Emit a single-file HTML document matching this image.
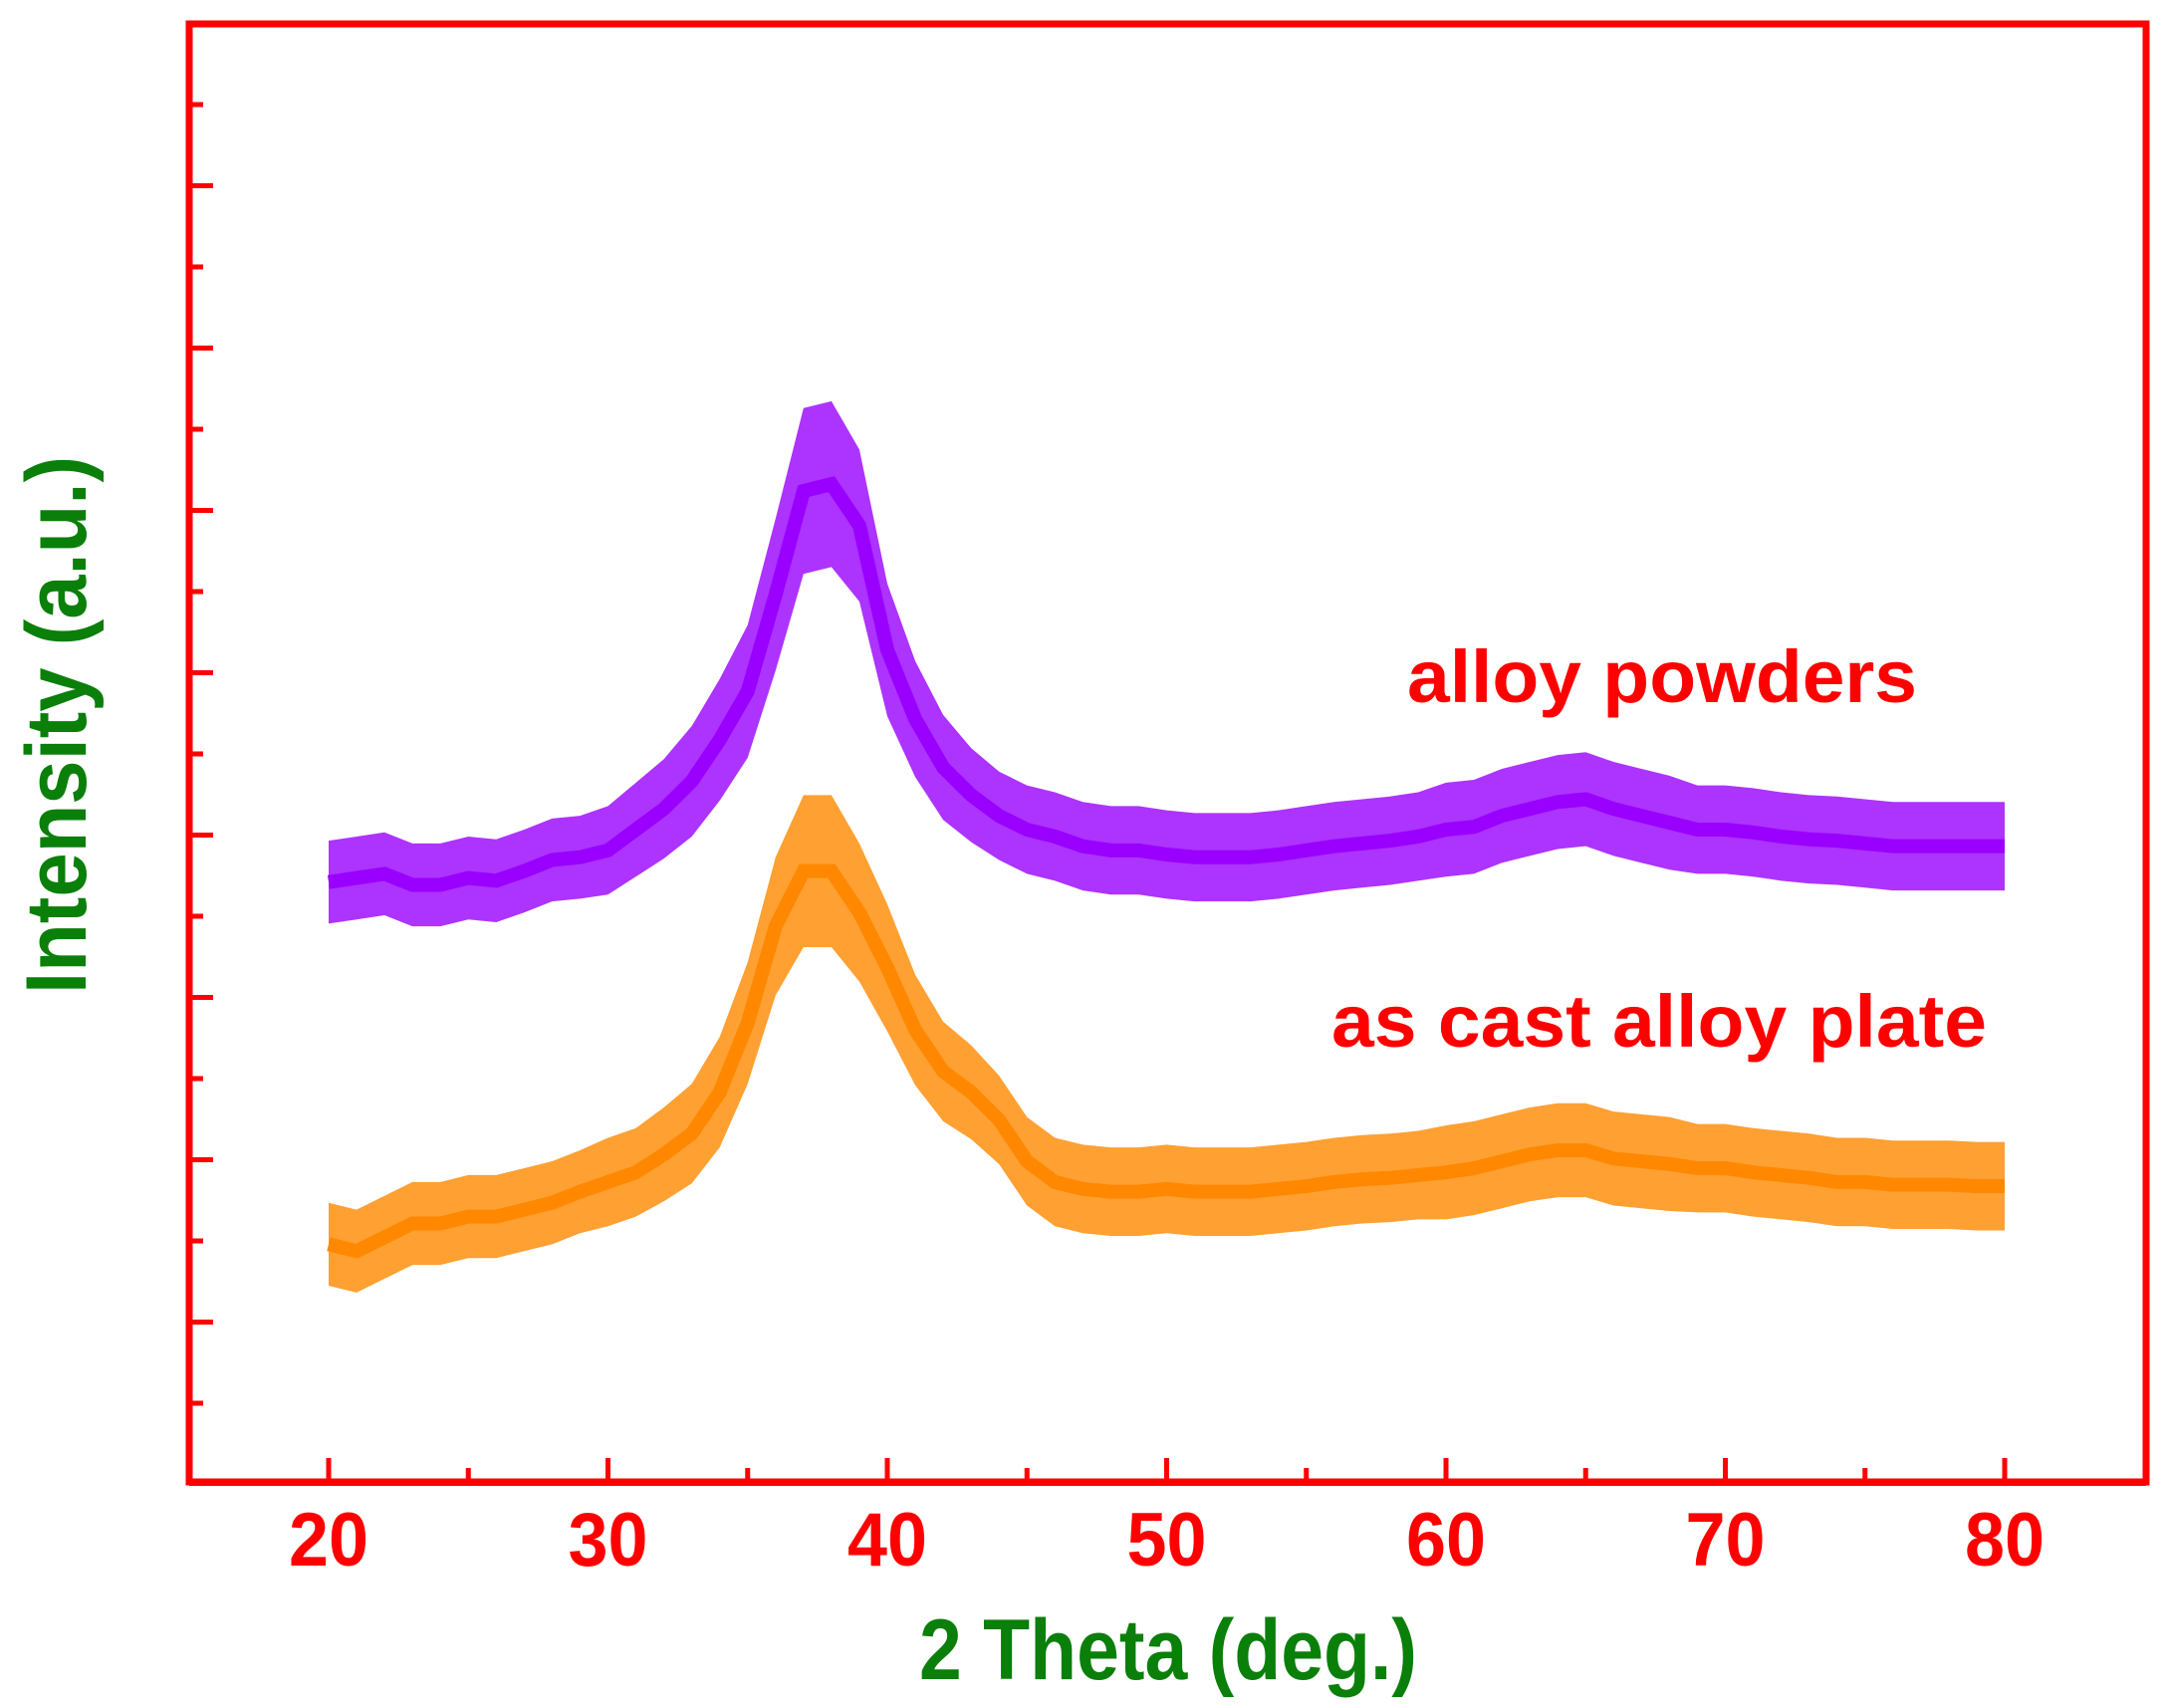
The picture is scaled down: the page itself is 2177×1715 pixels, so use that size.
<!DOCTYPE html>
<html><head><meta charset="utf-8"><style>
html,body{margin:0;padding:0;background:#fff}
svg{display:block}
text{font-family:"Liberation Sans",sans-serif;font-weight:bold}
</style></head><body>
<svg id="chart" width="2177" height="1715" viewBox="0 0 2177 1715" xmlns="http://www.w3.org/2000/svg">
<g id="series"></g>
<g id="axes"></g>
<text x="1413" y="705" font-size="74" fill="#ff0000" textLength="512" lengthAdjust="spacingAndGlyphs">alloy powders</text>
<text x="1337" y="1051" font-size="74" fill="#ff0000" textLength="658" lengthAdjust="spacingAndGlyphs">as cast alloy plate</text>
<text x="1173" y="1686" font-size="86" fill="#0a7f0a" text-anchor="middle" textLength="500" lengthAdjust="spacingAndGlyphs">2 Theta (deg.)</text>
<text transform="translate(86,728) rotate(-90)" font-size="86" fill="#0a7f0a" text-anchor="middle" textLength="540" lengthAdjust="spacingAndGlyphs">Intensity (a.u.)</text>
</svg>
<script>
const thetaStart = 20;
const powderMean = [434,437,440,432,432,437,435,442,450,452,457,472,487,507,537,572,642,717,722,692,602,552,517,497,482,472,467,460,457,457,454,452,452,452,454,457,460,462,464,467,472,474,482,487,492,494,487,482,477,472,472,470,467,465,464,462,460,460,460,460,460];
const plateMean = [172,167,177,187,187,192,192,197,202,210,217,224,237,252,282,332,402,442,442,412,372,327,297,282,262,232,217,212,210,210,212,210,210,210,212,214,217,219,220,222,224,227,232,237,240,240,234,232,230,227,227,224,222,220,217,217,215,215,215,214,214];
const powderSpread = [30,30,30,30,30,30,30,30,30,30,32,34,36,40,44,48,55,60,60,55,48,42,38,34,32,32,32,32,32,32,32,32,32,32,32,32,32,32,32,32,34,34,34,34,34,34,34,34,34,32,32,32,32,32,32,32,32,32,32,32,32];
const plateSpread = [30,30,30,30,30,30,30,30,30,30,32,32,34,36,40,44,50,55,55,50,46,40,36,34,32,32,32,32,32,32,32,32,32,32,32,32,32,32,32,32,34,34,34,34,34,34,34,34,34,32,32,32,32,32,32,32,32,32,32,32,32];
const xTickLabels = ["20","30","40","50","60","70","80"];

const NS="http://www.w3.org/2000/svg";
const L=190,T=24,R=2155,B=1488;
function xs(t){return 330+(t-20)*(2013-330)/60;}
function ys(v){return B-v*(B-T)/1055;}
function mk(tag,attrs,parent){const e=document.createElementNS(NS,tag);for(const k in attrs)e.setAttribute(k,attrs[k]);parent.appendChild(e);return e;}
const sg=document.getElementById('series'), ag=document.getElementById('axes');

function drawSeries(mean,spread,color,name){
  let up=[],lo=[],mid=[];
  mean.forEach((v,i)=>{const x=xs(thetaStart+i);up.push(x+','+ys(v+spread[i]));lo.unshift(x+','+ys(v-spread[i]));mid.push(x+','+ys(v));});
  const band=mk('polygon',{points:up.concat(lo).join(' '),fill:color,'fill-opacity':'0.8'},sg);
  
  
  const line=mk('polyline',{points:mid.join(' '),fill:'none',stroke:color,'stroke-width':'14'},sg);
  
  
}
drawSeries(powderMean,powderSpread,'#9900ff','alloy-powders');
drawSeries(plateMean,plateSpread,'#ff8800','as-cast-plate');

const frame=mk('rect',{x:L,y:T,width:R-L,height:B-T,fill:'none',stroke:'#ff0000','stroke-width':'7'},ag);


mk('line',{x1:L,y1:B+1,x2:R,y2:B+1,stroke:'#ff0000','stroke-width':'6'},ag);
for(let t=20;t<=80;t+=5){
  const major=t%10===0;
  const tk=mk('line',{x1:xs(t),y1:B,x2:xs(t),y2:B-(major?24:14),stroke:'#ff0000','stroke-width':'5'},ag);
  
  
}
xTickLabels.forEach((s,i)=>{
  const tx=mk('text',{x:xs(20+i*10),y:1572,'font-size':'76',fill:'#ff0000','text-anchor':'middle',textLength:'80',lengthAdjust:'spacingAndGlyphs'},ag);
  tx.textContent=s;
  
  
});
for(let i=0;i<17;i++){
  const y=105+i*81.5, major=i%2===1;
  const tk=mk('line',{x1:L,y1:y,x2:L+(major?24:14),y2:y,stroke:'#ff0000','stroke-width':'5'},ag);
  
  
}
</script>
</body></html>
